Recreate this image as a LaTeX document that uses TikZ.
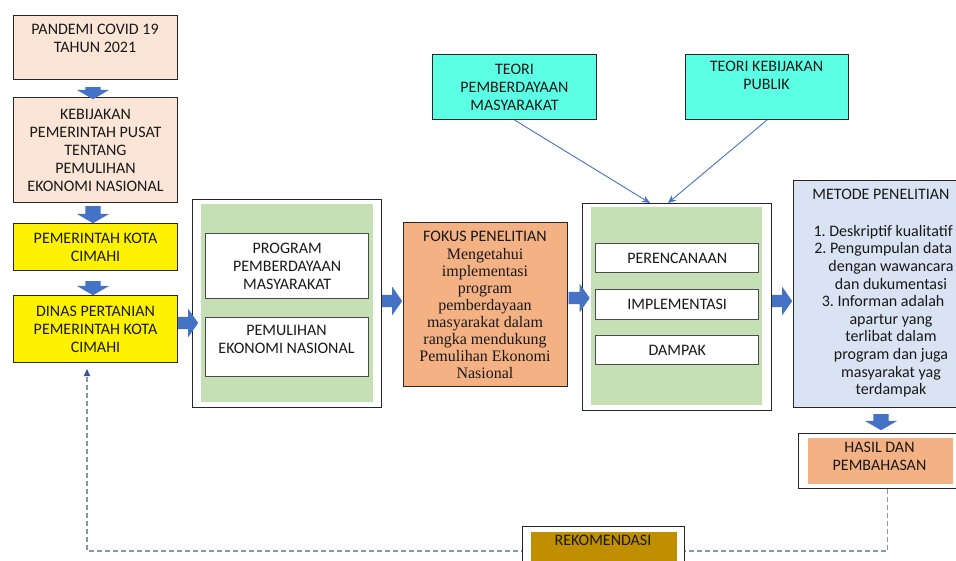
\documentclass[tikz,border=0pt]{standalone}
\usepackage{fontspec}
\setmainfont{Carlito}
\newfontfamily\serifbody{Liberation Serif}
\usetikzlibrary{positioning,shapes.arrows,arrows.meta}
\definecolor{peach}{HTML}{FBE5D6}
\definecolor{sage}{HTML}{C5E0B4}
\definecolor{apricot}{HTML}{F4B183}
\definecolor{paleblue}{HTML}{DAE3F3}
\definecolor{aqua}{HTML}{5BFFE3}
\definecolor{ochre}{HTML}{BF8F00}
\definecolor{flowblue}{HTML}{4472C4}
\definecolor{dashblue}{HTML}{8497B0}
\definecolor{inkblue}{HTML}{2F5597}
\tikzset{x=1pt, y=-1pt,
 box/.style={draw=black!85, line width=1pt, anchor=north west, inner sep=0pt, align=center,
  text=black!90, font=\fontsize{16}{18}\selectfont},
 frame/.style={draw=black!85, line width=1pt, fill=white, anchor=north west, inner sep=0pt},
 panel/.style={fill=sage, anchor=north west, inner sep=0pt},
 subbox/.style={box, draw=black!70, line width=1.4pt, fill=white},
 txt/.style={anchor=north, inner sep=0pt, align=center, text=black!90, font=\fontsize{16}{18}\selectfont},
 blockdown/.style={single arrow, fill=flowblue, draw=none, inner xsep=0pt, inner ysep=7.5pt,
  single arrow head extend=8.5pt, single arrow tip angle=120, minimum height=16pt, rotate=-90},
 blockright/.style={single arrow, fill=flowblue, draw=none, inner xsep=0pt, inner ysep=6pt,
  single arrow head extend=8pt, single arrow tip angle=110, minimum height=20pt},
 feed/.style={draw=flowblue, line width=0.9pt, -{Stealth[length=8pt,width=7pt]}},
 back/.style={draw=dashblue, line width=1.5pt, dash pattern=on 5pt off 3pt,
  -{Triangle[length=7pt,width=6pt,color=inkblue]}},
}
\begin{document}
\begin{tikzpicture}
\useasboundingbox (0,0) rectangle (956,560);
\clip (0,0) rectangle (956,560);

\node[box, fill=peach, minimum width=164pt, minimum height=64pt] (pandemi) at (13,15) {};
\node[txt] (pandemiT) at (95,24) {PANDEMI COVID 19\\TAHUN 2021};
\node[box, fill=peach, minimum width=164pt, minimum height=105pt] (kebijakan) at (13,97)
 {KEBIJAKAN\\PEMERINTAH PUSAT\\TENTANG\\PEMULIHAN\\EKONOMI NASIONAL};
\node[box, fill=yellow, minimum width=164pt, minimum height=47pt] (pemkot) at (13,223) {PEMERINTAH KOTA\\CIMAHI};
\node[box, fill=yellow, minimum width=164pt, minimum height=67pt] (dinas) at (13,295) {DINAS PERTANIAN\\PEMERINTAH KOTA\\CIMAHI};
\node[blockdown, minimum height=12pt] (d1) at (93,91) {};
\node[blockdown, minimum height=17pt] (d2) at (93,212.5) {};
\node[blockdown, minimum height=14pt] (d3) at (93,286) {};

\node[frame, minimum width=189pt, minimum height=208pt] (frameA) at (192,199) {};
\node[panel, minimum width=172pt, minimum height=198pt] (panelA) at (201,204) {};
\node[subbox, minimum width=163pt, minimum height=65pt] (program) at (205,233) {PROGRAM\\PEMBERDAYAAN\\MASYARAKAT};
\node[subbox, minimum width=163pt, minimum height=59pt] (pemulihan) at (205,317) {};
\node[txt] (pemulihanT) at (286.5,325) {PEMULIHAN\\EKONOMI NASIONAL};
\node[blockright] (r1) at (186,323) {};

\node[box, fill=apricot, minimum width=164pt, minimum height=164pt] (fokus) at (403,222) {};
\node[txt] (fokusT) at (485,231) {FOKUS PENELITIAN};
\node[txt, font=\serifbody\fontsize{16}{17}\selectfont] (fokusB) at (485,248)
 {Mengetahui\\implementasi\\program\\pemberdayaan\\masyarakat dalam\\rangka mendukung\\Pemulihan Ekonomi\\Nasional};
\node[blockright] (r2) at (390,301) {};

\node[frame, minimum width=189pt, minimum height=207pt] (frameB) at (582,203) {};
\node[panel, minimum width=171pt, minimum height=198pt] (panelB) at (591,207) {};
\node[subbox, minimum width=163pt, minimum height=29pt] (perencanaan) at (595,243) {PERENCANAAN};
\node[subbox, minimum width=163pt, minimum height=30pt] (implementasi) at (595,289) {IMPLEMENTASI};
\node[subbox, minimum width=163pt, minimum height=29pt] (dampak) at (595,335) {DAMPAK};
\node[blockright, minimum height=21pt] (r3) at (577,298) {};

\node[box, fill=aqua, minimum width=164pt, minimum height=65pt] (teoriA) at (432,54) {TEORI\\PEMBERDAYAAN\\MASYARAKAT};
\node[box, fill=aqua, minimum width=163pt, minimum height=65pt] (teoriB) at (685,54) {};
\node[txt] (teoriBT) at (766.5,61) {TEORI KEBIJAKAN\\PUBLIK};
\coordinate (inA) at (650,203);
\coordinate (inB) at (668,203);
\draw[feed] (teoriA.south) -- (inA);
\draw[feed] (teoriB.south) -- (inB);

\node[box, fill=paleblue, minimum width=176pt, minimum height=227pt] (metode) at (793,180) {};
\node[txt] (metodeT) at (881,189) {METODE PENELITIAN};
\node[txt, font=\fontsize{16}{17.6}\selectfont] (metodeL) at (891,225)
 {\llap{1.\ }Deskriptif kualitatif\\\llap{2.\ }Pengumpulan data\\dengan wawancara\\dan dukumentasi\\
  \llap{3.\ }Informan adalah\\apartur yang\\terlibat dalam\\program dan juga\\masyarakat yag\\terdampak};
\node[blockright] (r4) at (780,301) {};
\node[blockdown] (d4) at (881,420) {};

\node[frame, minimum width=178pt, minimum height=55pt] (hasilFrame) at (798,433) {};
\node[box, draw=none, fill=apricot, minimum width=145pt, minimum height=46pt] (hasil) at (807,437) {};
\node[txt] (hasilT) at (879.5,442) {HASIL DAN\\PEMBAHASAN};

\coordinate (loopL) at (87,551);
\draw[back, shorten >=6pt] (hasilFrame.south) |- (loopL) -- (dinas.south -| loopL);

\node[frame, minimum width=162pt, minimum height=50pt] (rekoFrame) at (522,526) {};
\node[box, draw=none, fill=ochre, minimum width=146pt, minimum height=40pt] (reko) at (530,531) {};
\node[txt] (rekoT) at (603,535) {REKOMENDASI};
\end{tikzpicture}
\end{document}
